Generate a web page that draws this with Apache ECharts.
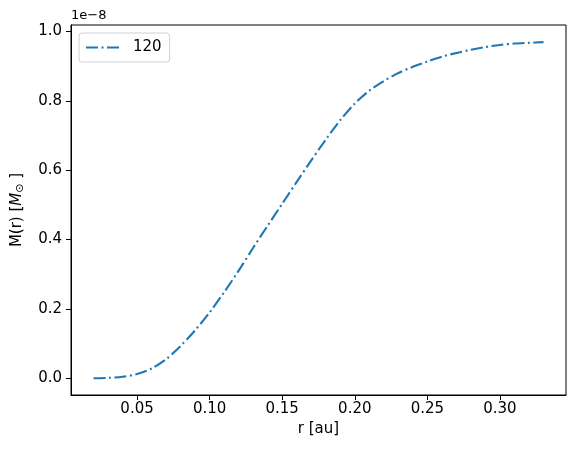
<!DOCTYPE html>
<html>
	<head>
		<title>M(r)</title>
		<meta http-equiv="Content-Type" content="text/html; charset=utf-8">
		<style>
			html, body { margin: 0; padding: 0; background: #fff; }
		</style>
	</head>
<body>
   <div id="main" style="width: 575px;height:450px;"></div>
   <script src="https://cdn.jsdelivr.net/npm/echarts@6/dist/echarts.min.js"></script>
   <script>
        // 数据 ------------------
        // r [au]
        var rValues = [0.02, 0.03, 0.04, 0.05, 0.06, 0.07, 0.08, 0.09, 0.10, 0.11,
                       0.12, 0.13, 0.14, 0.15, 0.16, 0.17, 0.18, 0.19, 0.20, 0.21,
                       0.22, 0.23, 0.24, 0.25, 0.26, 0.27, 0.28, 0.29, 0.30, 0.31,
                       0.32, 0.33];
        // M(r)，单位 1e-8 M_sun
        var massValues = [0.000, 0.001, 0.004, 0.012, 0.028, 0.055, 0.093, 0.138, 0.190, 0.248,
                          0.310, 0.376, 0.440, 0.503, 0.566, 0.628, 0.688, 0.744, 0.792, 0.829,
                          0.857, 0.880, 0.898, 0.913, 0.927, 0.938, 0.947, 0.955, 0.961, 0.965,
                          0.967, 0.969];
        var seriesName = '120';
        var xTicks = [0.05, 0.10, 0.15, 0.20, 0.25, 0.30];
        var yTicks = [0.0, 0.2, 0.4, 0.6, 0.8, 1.0];

        var points = [];
        for (var i = 0; i < rValues.length; i++) {
            points.push([rValues[i], massValues[i]]);
        }

        var myChart = echarts.init(document.getElementById('main'));

        var font = 'DejaVu Sans';
        var lineColor = '#1f77b4';
        var dashDot = [12, 3.5, 2, 3.5];
        var option = {
            backgroundColor: '#ffffff',
            animation: false,
            textStyle: { fontFamily: font },
            grid: {
                left: 71, right: 9, top: 25, bottom: 55,
                show: true,
                borderColor: '#000',
                borderWidth: 1
            },
            legend: {
                left: 79,
                top: 33,
                padding: [7, 8, 7, 6],
                itemWidth: 33,
                itemHeight: 14,
                backgroundColor: 'rgba(255,255,255,0.8)',
                borderColor: '#d0d0d0',
                borderWidth: 1,
                borderRadius: 3,
                // 图例里只画点划线，不要圆点
                itemStyle: { color: 'rgba(0,0,0,0)', borderWidth: 0 },
                lineStyle: { color: lineColor, width: 2, type: dashDot, cap: 'butt' },
                textStyle: {
                    fontSize: 15,
                    color: '#000',
                    padding: [0, 0, 0, 9]
                },
                data: [seriesName]
            },
            // 左上角的 1e-8 偏移文字
            graphic: [{
                type: 'text',
                left: 71,
                top: 9,
                style: {
                    text: '1e\u22128',
                    fontSize: 13,
                    fontFamily: font,
                    fill: '#000'
                }
            }],
            xAxis: {
                type: 'value',
                min: 0.0045,
                max: 0.3455,
                name: 'r [au]',
                nameLocation: 'middle',
                nameGap: 19,
                nameTextStyle: { fontSize: 15, color: '#000' },
                splitLine: { show: false },
                axisLine: { show: true, onZero: false, lineStyle: { color: '#000', width: 1 } },
                axisTick: {
                    show: true,
                    length: 5,
                    lineStyle: { color: '#000', width: 1 },
                    customValues: xTicks
                },
                axisLabel: {
                    fontSize: 15,
                    color: '#000',
                    margin: 7,
                    customValues: xTicks,
                    formatter: function (v) { return v.toFixed(2); }
                }
            },
            yAxis: {
                type: 'value',
                min: -0.0485,
                max: 1.0185,
                name: 'M(r) [{i|M}{s|\u2299} ]',
                nameLocation: 'middle',
                nameGap: 45,
                nameTextStyle: {
                    fontSize: 15,
                    color: '#000',
                    rich: {
                        i: { fontSize: 15, fontStyle: 'italic', color: '#000', fontFamily: font },
                        s: { fontSize: 11, color: '#000', fontFamily: font, padding: [6, 0, 0, 0] }
                    }
                },
                splitLine: { show: false },
                axisLine: { show: true, onZero: false, lineStyle: { color: '#000', width: 1 } },
                axisTick: {
                    show: true,
                    length: 5,
                    lineStyle: { color: '#000', width: 1 },
                    customValues: yTicks
                },
                axisLabel: {
                    fontSize: 15,
                    color: '#000',
                    margin: 9,
                    customValues: yTicks,
                    formatter: function (v) { return v.toFixed(1); }
                }
            },
            series: [{
                name: seriesName,
                type: 'line',
                symbol: 'none',
                smooth: 0.3,
                color: lineColor,
                lineStyle: {
                    color: lineColor,
                    width: 2.1,
                    type: dashDot,
                    cap: 'butt'
                },
                data: points
            }]
        };
        myChart.setOption(option);
    </script>
</body>
</html>
